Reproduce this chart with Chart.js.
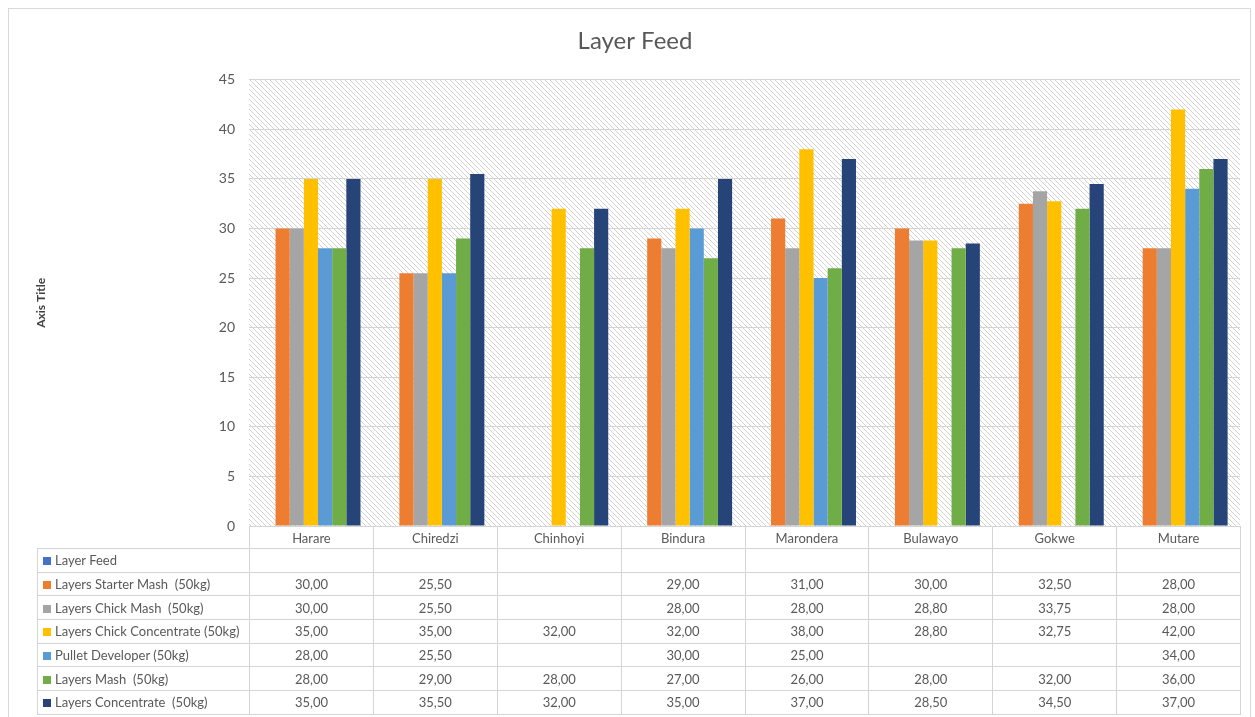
<!DOCTYPE html>
<html>
<head>
<meta charset="utf-8">
<script src="https://cdn.jsdelivr.net/npm/chart.js@4/dist/chart.umd.min.js"></script>
<style>
body { margin: 0; background: #fff; font-family: Lato, sans-serif; }
#wrap { position: relative; width: 1255px; height: 717px; overflow: hidden; }
#frame { position: absolute; left: 8px; top: 8px; width: 1241px; height: 720px; border: 1px solid #d9d9d9; }
#c { position: absolute; left: 0; top: 0; }
#tbl { position: absolute; border-collapse: collapse; table-layout: fixed; font-size: 13px; color: #595959; }
#tbl td { border: 1px solid #d4d4d4; padding: 0; text-align: center; white-space: nowrap; overflow: hidden; }
#tbl td.lbl { text-align: left; padding-left: 5px; }
#tbl td.blank { border: none; }
#tbl .key { display: inline-block; width: 8px; height: 8px; margin-right: 4px; vertical-align: 0px; }
</style>
</head>
<body>
<div id="wrap">
  <div id="frame"></div>
  <canvas id="c" width="1255" height="717"></canvas>
  <table id="tbl"></table>
</div>
<script>
// categories and series
var towns = ['Harare', 'Chiredzi', 'Chinhoyi', 'Bindura', 'Marondera', 'Bulawayo', 'Gokwe', 'Mutare'];
var seriesNames = ['Layer Feed', 'Layers Starter Mash  (50kg)', 'Layers Chick Mash  (50kg)', 'Layers Chick Concentrate (50kg)',
                   'Pullet Developer (50kg)', 'Layers Mash  (50kg)', 'Layers Concentrate  (50kg)'];
var layerFeed      = [null, null, null, null, null, null, null, null];
var starterMash    = [30, 25.5, null, 29, 31, 30, 32.5, 28];
var chickMash      = [30, 25.5, null, 28, 28, 28.8, 33.75, 28];
var chickConc      = [35, 35, 32, 32, 38, 28.8, 32.75, 42];
var pulletDev      = [28, 25.5, null, 30, 25, null, null, 34];
var layersMash     = [28, 29, 28, 27, 26, 28, 32, 36];
var layersConc     = [35, 35.5, 32, 35, 37, 28.5, 34.5, 37];
var yTicks = [0, 5, 10, 15, 20, 25, 30, 35, 40, 45];

var colors = ['#4472C4', '#ED7D31', '#A5A5A5', '#FFC000', '#5B9BD5', '#70AD47', '#264478'];
var allSeries = [layerFeed, starterMash, chickMash, chickConc, pulletDev, layersMash, layersConc];

// hatch pattern for plot background
function hatch() {
  var s = 5;
  var p = document.createElement('canvas');
  p.width = s; p.height = s;
  var g = p.getContext('2d');
  g.fillStyle = '#ffffff';
  g.fillRect(0, 0, s, s);
  g.strokeStyle = '#d2d2d2';
  g.lineWidth = 1;
  g.beginPath();
  g.moveTo(-1, -1); g.lineTo(s + 1, s + 1);
  g.moveTo(-1, s - 1); g.lineTo(1, s + 1);
  g.moveTo(s - 1, -1); g.lineTo(s + 1, 1);
  g.stroke();
  return g.createPattern(p, 'repeat');
}

var bgPlugin = {
  id: 'bg',
  beforeDraw: function(chart) {
    var a = chart.chartArea, ctx = chart.ctx;
    ctx.save();
    ctx.fillStyle = hatch();
    ctx.fillRect(a.left, a.top, a.right - a.left, a.bottom - a.top);
    ctx.restore();
  }
};

var datasets = [];
for (var i = 0; i < allSeries.length; i++) {
  datasets.push({
    label: seriesNames[i],
    data: allSeries[i],
    backgroundColor: colors[i],
    borderWidth: 0,
    barPercentage: 1.0,
    categoryPercentage: 0.8
  });
}

var chart = new Chart(document.getElementById('c'), {
  type: 'bar',
  data: { labels: towns, datasets: datasets },
  options: {
    responsive: false,
    animation: false,
    layout: { padding: { left: 30, right: 15, top: 19, bottom: 191 } },
    plugins: {
      legend: { display: false },
      tooltip: { enabled: false },
      title: {
        display: true,
        text: 'Layer Feed',
        color: '#595959',
        font: { family: 'Lato', size: 24, weight: 'normal' },
        padding: { top: 8, bottom: 24 }
      }
    },
    scales: {
      x: {
        grid: { display: false },
        border: { display: false },
        ticks: { display: false },
        afterFit: function(s) { s.height = 0; }
      },
      y: {
        min: 0, max: 45,
        afterBuildTicks: function(s) { s.ticks = yTicks.map(function(v) { return { value: v }; }); },
        grid: { color: '#d4d4d4', lineWidth: 1, drawTicks: false },
        border: { display: false },
        ticks: { color: '#595959', font: { family: 'Lato', size: 14 }, padding: 14 },
        title: {
          display: true, text: 'Axis Title', color: '#404040',
          font: { family: 'Lato', size: 12, weight: 'bold' }, padding: { top: 4, bottom: 4 }
        },
        afterFit: function(s) { s.width = 219; }
      }
    }
  },
  plugins: [bgPlugin]
});

// data table under the plot, lined up with the x scale
function fmt(v) { return v == null ? '' : v.toFixed(2).replace('.', ','); }
(function buildTable() {
  var a = chart.chartArea;
  var tableLeft = 37;
  var catW = (a.right - a.left) / towns.length;
  var tbl = document.getElementById('tbl');
  tbl.style.left = tableLeft + 'px';
  tbl.style.top = a.bottom + 'px';
  tbl.style.width = (a.right - tableLeft) + 'px';
  var html = '<colgroup><col style="width:' + (a.left - tableLeft) + 'px">';
  for (var i = 0; i < towns.length; i++) html += '<col style="width:' + catW + 'px">';
  html += '</colgroup>';
  html += '<tr style="height:22px"><td class="blank"></td>';
  for (var i = 0; i < towns.length; i++) html += '<td>' + towns[i] + '</td>';
  html += '</tr>';
  for (var s = 0; s < allSeries.length; s++) {
    html += '<tr style="height:23.7px"><td class="lbl"><span class="key" style="background:' + colors[s] + '"></span>' +
            seriesNames[s].replace(/  /g, '&nbsp; ') + '</td>';
    for (var i = 0; i < towns.length; i++) html += '<td>' + fmt(allSeries[s][i]) + '</td>';
    html += '</tr>';
  }
  tbl.innerHTML = html;
})();
</script>
</body>
</html>
